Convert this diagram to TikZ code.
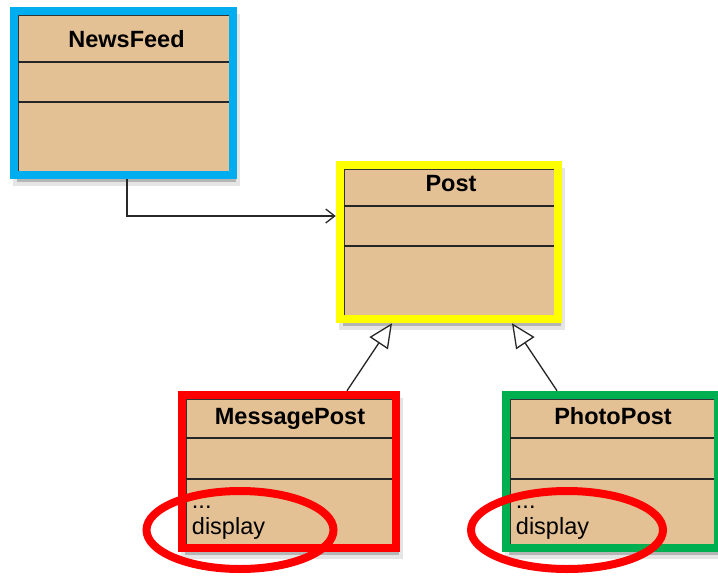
\documentclass[tikz,border=0pt]{standalone}
\usepackage{fontspec}
\setmainfont{Liberation Sans}
\usetikzlibrary{arrows.meta,calc,shadows}

\definecolor{classtan}{RGB}{227,193,148}
\definecolor{feedblue}{RGB}{0,174,239}
\definecolor{postyellow}{RGB}{255,255,0}
\definecolor{msgred}{RGB}{255,0,0}
\definecolor{photogreen}{RGB}{0,176,80}
\definecolor{linkgray}{RGB}{40,40,40}

\tikzset{
  umlclass/.style={rectangle, draw=#1, line width=8.5pt, fill=classtan, inner sep=0pt,
    drop shadow={shadow xshift=3pt, shadow yshift=-7pt, opacity=0.25, fill=black, draw=black!40}},
  classname/.style={font=\fontsize{23.5}{28}\selectfont\bfseries, anchor=base, inner sep=0pt},
  member/.style={font=\fontsize{23.5}{28}\selectfont, anchor=base west, inner sep=0pt},
  compline/.style={black!85, line width=1.5pt},
  assoc/.style={linkgray, line width=1.3pt, -{Straight Barb[length=9pt,width=14pt]}},
  inherit/.style={linkgray, line width=1.3pt, -{Triangle[open,length=24pt,width=22pt,fill=white]}},
  highlight/.style={msgred, line width=8pt}
}

\begin{document}
\begin{tikzpicture}[x=1pt,y=-1pt]
      \useasboundingbox (0,0) rectangle (718,576);
      \clip (0,0) rectangle (718,576);
      % classes
      \node[umlclass=feedblue, minimum width=219pt, minimum height=164pt] (feed) at (123.5,93) {};
      \node[umlclass=postyellow, minimum width=218pt, minimum height=154pt] (post) at (449,242) {};
      \node[umlclass=msgred, minimum width=214pt, minimum height=153pt] (msg) at (289,471.5) {};
      \node[umlclass=photogreen, minimum width=212pt, minimum height=153pt] (photo) at (612,471.5) {};
      \foreach \cls/\a/\b in {feed/55/95, post/45/85, msg/47/88, photo/47/88} {
        \draw[black!80, line width=0.8pt] ($(\cls.south west)+(8.5,-8)$) |- ($(\cls.north east)+(-8,8.5)$);
        \draw[compline] ($(\cls.north west)+(8,\a)$) -- ($(\cls.north east)+(-8,\a)$);
        \draw[compline] ($(\cls.north west)+(8,\b)$) -- ($(\cls.north east)+(-8,\b)$);
      }
      \node[classname] (feedname) at ($(feed.north)+(3,41)$) {NewsFeed};
      \node[classname] (postname) at ($(post.north)+(2,31)$) {Post};
      \node[classname] (msgname) at ($(msg.north)+(1,34)$) {MessagePost};
      \node[classname] (photoname) at ($(photo.north)+(1,34)$) {PhotoPost};
      \node[member] (msgdots) at ($(msg.north west)+(14,118)$) {...};
      \node[member] (msgdisplay) at ($(msg.north west)+(14,144)$) {display};
      \node[member] (photodots) at ($(photo.north west)+(14,118)$) {...};
      \node[member] (photodisplay) at ($(photo.north west)+(14,144)$) {display};
      % connectors
      \draw[assoc] ([xshift=3.5pt]feed.south) |- ([yshift=26pt]post.west);
      \draw[inherit] ([xshift=58pt]msg.north) -- ([xshift=-57pt]post.south);
      \draw[inherit] ([xshift=-55pt]photo.north) -- ([xshift=63pt]post.south);
      % rings
      \draw[highlight] (240,530) ellipse [x radius=93.5, y radius=39];
      \draw[highlight] (567,530) ellipse [x radius=96, y radius=39];
\end{tikzpicture}
\end{document}
